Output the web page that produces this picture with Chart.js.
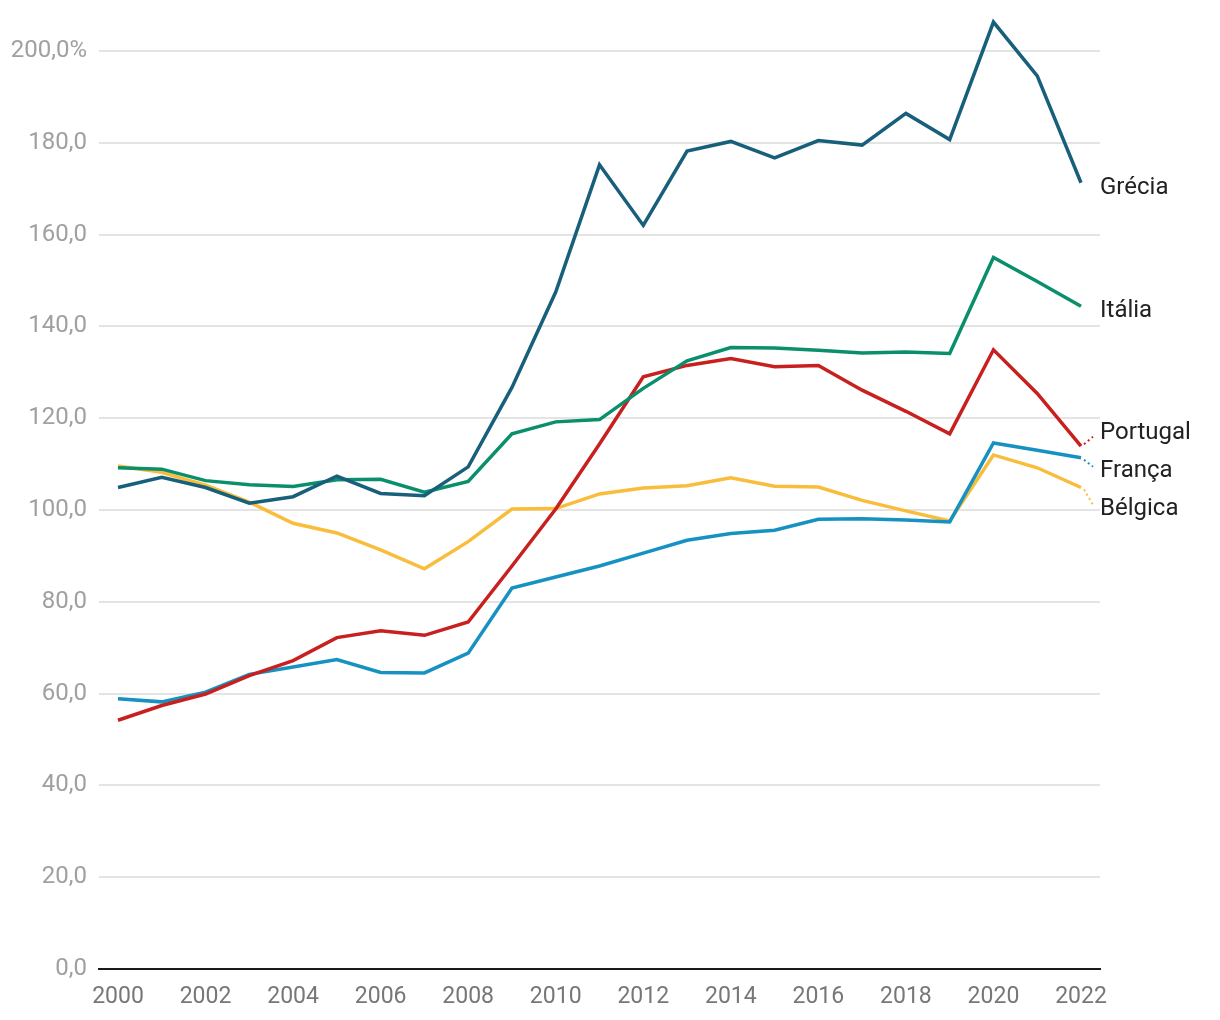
<!DOCTYPE html>
<html lang="pt">
<head>
  <meta charset="UTF-8">
  <title>Dívida pública (% do PIB)</title>
  <script src="https://cdn.jsdelivr.net/npm/chart.js"></script>
  <style>
    body { margin: 0; background: #fff; }
    #wrap { width: 1220px; height: 1020px; }
  </style>
</head>
<body>
  <div id="wrap"><canvas id="debtChart" width="1220" height="1020"></canvas></div>

  <script>
    const years = [2000, 2001, 2002, 2003, 2004, 2005, 2006, 2007, 2008, 2009, 2010, 2011,
                   2012, 2013, 2014, 2015, 2016, 2017, 2018, 2019, 2020, 2021, 2022];
    const greece   = [104.9, 107.1, 104.9, 101.5, 102.9, 107.4, 103.6, 103.1, 109.4, 126.7, 147.5, 175.2,
                      162.0, 178.2, 180.3, 176.7, 180.5, 179.5, 186.4, 180.7, 206.3, 194.6, 171.3];
    const italy    = [109.2, 108.9, 106.4, 105.5, 105.1, 106.6, 106.7, 103.9, 106.2, 116.6, 119.2, 119.7,
                      126.5, 132.5, 135.4, 135.3, 134.8, 134.2, 134.4, 134.1, 155.0, 149.8, 144.4];
    const portugal = [54.2, 57.4, 59.9, 63.9, 67.2, 72.2, 73.7, 72.7, 75.6, 87.8, 100.2, 114.4,
                      129.0, 131.5, 133.0, 131.2, 131.5, 126.1, 121.5, 116.6, 134.9, 125.4, 113.9];
    const france   = [58.9, 58.2, 60.3, 64.2, 65.8, 67.4, 64.6, 64.5, 68.8, 83.0, 85.4, 87.8,
                      90.6, 93.4, 94.9, 95.6, 98.0, 98.1, 97.8, 97.4, 114.6, 113.0, 111.4];
    const belgium  = [109.6, 108.2, 105.4, 101.7, 97.1, 95.0, 91.3, 87.2, 93.1, 100.2, 100.3, 103.5,
                      104.8, 105.3, 107.0, 105.2, 105.0, 102.1, 99.8, 97.6, 112.0, 109.2, 104.9];

    const names  = ["Grécia", "Itália", "Portugal", "França", "Bélgica"];
    const series = [greece, italy, portugal, france, belgium];
    const colors = ["#175f7b", "#0a8f6c", "#c8201f", "#1692c2", "#f9bd3b"];

    const xTicks = [2000, 2002, 2004, 2006, 2008, 2010, 2012, 2014, 2016, 2018, 2020, 2022];

    // end-of-line labels, spread apart when they collide
    const endLabels = {
      id: "endLabels",
      afterDatasetsDraw(chart) {
        const ctx = chart.ctx;
        const xs = chart.scales.x, ys = chart.scales.y;
        const items = chart.data.datasets.map(ds => {
          const last = ds.data[ds.data.length - 1];
          return { name: ds.label, color: ds.borderColor, px: xs.getPixelForValue(last.x), py: ys.getPixelForValue(last.y) };
        }).sort((a, b) => a.py - b.py);

        const gap = 38;
        // group labels that overlap, then centre each group on its points
        let groups = [];
        items.forEach(it => {
          it.ly = it.py;
          groups.push([it]);
          let merged = true;
          while (merged && groups.length > 1) {
            merged = false;
            const g = groups[groups.length - 1], prev = groups[groups.length - 2];
            const prevBottom = prev[0].ly + (prev.length - 1) * gap;
            if (g[0].ly - prevBottom < gap) {
              const all = prev.concat(g);
              const mean = all.reduce((s, d) => s + d.py, 0) / all.length;
              const start = mean - (all.length - 1) * gap / 2;
              all.forEach((d, k) => d.ly = start + k * gap);
              groups.splice(groups.length - 2, 2, all);
              merged = true;
            }
          }
        });

        ctx.save();
        ctx.font = "24px Roboto";
        ctx.fillStyle = "#222";
        ctx.textBaseline = "middle";
        ctx.textAlign = "left";
        const lx = chart.chartArea.right;
        items.forEach(it => {
          const ty = it.ly + (Math.abs(it.ly - it.py) > 5 ? 7 : 5);
          if (Math.abs(it.ly - it.py) > 5) {
            ctx.strokeStyle = it.color;
            ctx.lineWidth = 2;
            ctx.setLineDash([2, 3]);
            ctx.beginPath();
            ctx.moveTo(it.px + 3, it.py + (ty > it.py ? 2 : -2));
            ctx.lineTo(lx - 7, ty + (ty > it.py ? -4 : 4));
            ctx.stroke();
            ctx.setLineDash([]);
          }
          ctx.fillText(it.name, lx, ty);
        });
        ctx.restore();
      }
    };

    const datasets = names.map((n, i) => ({
      label: n,
      data: years.map((y, k) => ({ x: y, y: series[i][k] })),
      borderColor: colors[i],
      backgroundColor: colors[i],
      borderWidth: 3.5,
      pointRadius: 0,
      tension: 0,
      clip: false
    }));

    new Chart(document.getElementById("debtChart"), {
      type: "line",
      data: { datasets: datasets },
      options: {
        responsive: false,
        animation: false,
        layout: { padding: { top: 51, right: 120, left: 0, bottom: 0 } },
        plugins: { legend: { display: false }, tooltip: { enabled: false } },
        scales: {
          x: {
            type: "linear",
            min: 1999.566,
            max: 2022.434,
            afterBuildTicks: s => { s.ticks = xTicks.map(v => ({ value: v })); },
            afterFit: s => { s.height = 51; },
            ticks: {
              color: "#777",
              font: { family: "Roboto", size: 23 },
              padding: 14,
              maxRotation: 0,
              callback: v => String(v)
            },
            grid: { display: false, drawTicks: false },
            border: { display: true, color: "#1a1a1a", width: 2 }
          },
          y: {
            min: 0,
            max: 200,
            afterFit: s => { s.width = 99; },
            ticks: {
              stepSize: 20,
              color: "#a0a0a0",
              font: { family: "Roboto", size: 24 },
              padding: 12,
              callback: v => v === 200 ? "200,0%" : v.toFixed(1).replace(".", ",")
            },
            grid: { color: "#e4e4e4", lineWidth: 2, drawTicks: false },
            border: { display: false }
          }
        }
      },
      plugins: [endLabels]
    });
  </script>
</body>
</html>
